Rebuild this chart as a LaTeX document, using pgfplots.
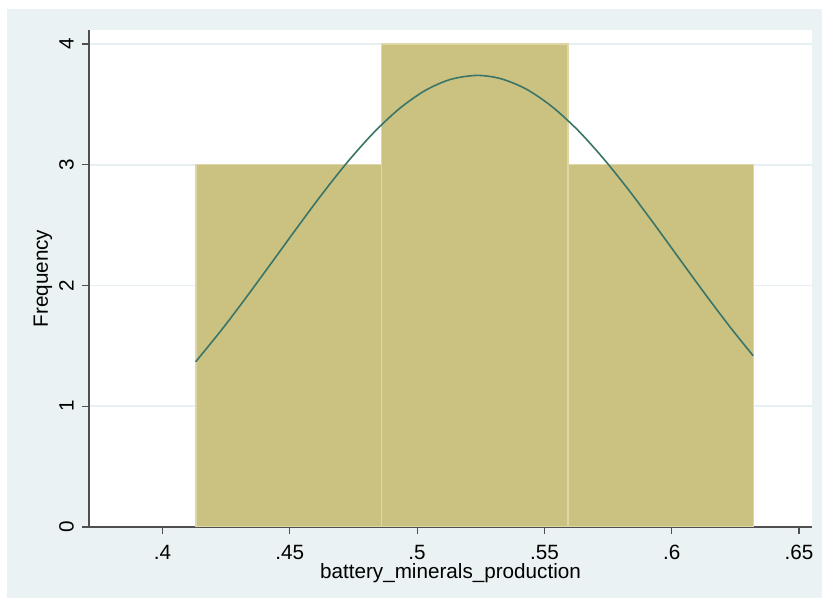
\documentclass[border=0pt]{standalone}
\usepackage{fontspec}
\setmainfont{Liberation Sans}
\usepackage{pgfplots}
\pgfplotsset{compat=1.18}
\definecolor{bgc}{HTML}{EAF2F3}
\definecolor{barc}{HTML}{CBC282}
\definecolor{baredge}{HTML}{DDD6A6}
\definecolor{curvec}{HTML}{3A7568}
\definecolor{axc}{HTML}{505050}
\definecolor{gridc}{HTML}{E6EFF2}

\begin{document}
\begin{tikzpicture}
\useasboundingbox (-66.75pt,-57pt) rectangle (549.75pt,395.25pt);
\fill[bgc] (-61.5pt,-53.25pt) rectangle (549.75pt,388.5pt);
\begin{axis}[
    scale only axis,
    width=542.25pt, height=372.75pt,
    xmin=0.37113, xmax=0.6551,
    ymin=0, ymax=4.116,
    axis background/.style={fill=white},
    axis x line=bottom, axis y line=left,
    axis line style={-, draw=axc, line width=0.8pt},
    tick style={draw=axc, line width=0.8pt},
    tick align=outside,
    major tick length=5.25pt,
    xtick={0.4,0.45,0.5,0.55,0.6,0.65},
    xticklabels={.4,.45,.5,.55,.6,.65},
    ytick={0,1,2,3,4},
    ymajorgrids,
    major grid style={draw=gridc, line width=1.2pt},
    /pgf/number format/assume math mode=true,
    ticklabel style={font=\fontsize{15.5}{18}\selectfont, inner sep=0pt},
    xticklabel style={anchor=north},
    xticklabel shift=8pt,
    yticklabel style={rotate=90, anchor=south},
    yticklabel shift=6pt,
    xlabel={battery\_minerals\_production},
    ylabel={Frequency},
    label style={font=\fontsize{15.5}{18}\selectfont, inner sep=0pt},
    xlabel style={at={([yshift=-34.5pt]axis description cs:0.5,0)}, anchor=center},
    ylabel style={at={([xshift=-34.5pt]axis description cs:0,0.5)}, anchor=center},
]
\addplot[ybar interval, fill=barc, draw=baredge, line width=1.1pt]
    coordinates {(0.4131,3) (0.4861,4) (0.5592,3) (0.6322,0)};
\addplot[curvec, line width=1.2pt, smooth] coordinates {
    (0.413,1.368) (0.423,1.627) (0.433,1.905) (0.443,2.193)
    (0.453,2.483) (0.463,2.766) (0.473,3.031) (0.483,3.267)
    (0.493,3.464) (0.503,3.613) (0.513,3.706) (0.5235,3.740)
    (0.533,3.712) (0.543,3.625) (0.553,3.481) (0.563,3.289)
    (0.573,3.056) (0.583,2.794) (0.593,2.512) (0.603,2.222)
    (0.613,1.933) (0.623,1.654) (0.632,1.418)
};
\end{axis}
\end{tikzpicture}
\end{document}
